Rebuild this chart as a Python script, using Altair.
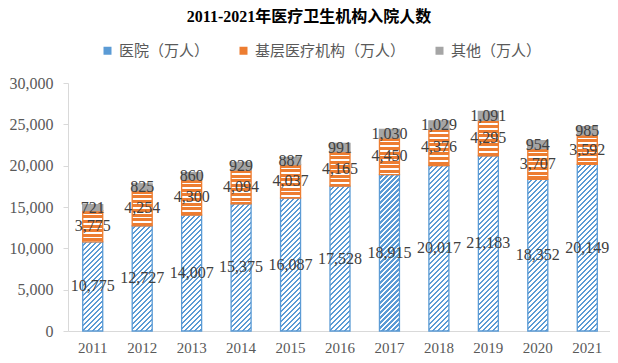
import altair as alt
import pandas as pd

years = ["2011", "2012", "2013", "2014", "2015", "2016", "2017", "2018", "2019", "2020", "2021"]
hospital = [10775, 12727, 14007, 15375, 16087, 17528, 18915, 20017, 21183, 18352, 20149]
grassroots = [3775, 4254, 4300, 4094, 4037, 4165, 4450, 4376, 4295, 3707, 3592]
other = [721, 825, 860, 929, 887, 991, 1030, 1029, 1091, 954, 985]
series_names = ["医院（万人）", "基层医疗机构（万人）", "其他（万人）"]
colors = ["#5B9BD5", "#ED7D31", "#A5A5A5"]
title_text = "2011-2021年医疗卫生机构入院人数"

Y_MAX = 30000
PLOT_W = 542
PLOT_H = 248
X_RANGE = 544
BAR_W = 20

rows = []
for i, y in enumerate(years):
    base = 0
    for s, vals in enumerate([hospital, grassroots, other]):
        v = vals[i]
        rows.append({"year": y, "s": s, "series": series_names[s], "value": v,
                     "base": base, "top": base + v, "mid": base + v / 2})
        base += v
df = pd.DataFrame(rows)


def stripe_stops(n, col_a, col_b, frac_a):
    stops = []
    i = 0
    while i < n:
        s = min(1.0, i / n)
        m = min(1.0, (i + frac_a) / n)
        e = min(1.0, (i + 1) / n)
        stops += [{"offset": round(s, 5), "color": col_a}, {"offset": round(m, 5), "color": col_a},
                  {"offset": round(m, 5), "color": col_b}, {"offset": round(e, 5), "color": col_b}]
        i += 1
    return stops


px_per_unit = PLOT_H / Y_MAX
conds = []
for i, y in enumerate(years):
    # hospital: diagonal "/" hatch
    h = hospital[i] * px_per_unit
    w = BAR_W
    k = (w + h) / (w * w + h * h)
    n = (w + h) / 5.0
    grad_h = {"gradient": "linear", "x1": 0, "y1": 0, "x2": w * k, "y2": h * k,
              "stops": stripe_stops(n, "#FFFFFF", colors[0], 0.58)}
    conds.append({"test": f"datum.year == '{y}' && datum.s == 0", "value": grad_h})
    # grassroots: horizontal stripes
    h2 = grassroots[i] * px_per_unit
    n2 = h2 / 4.6
    grad_g = {"gradient": "linear", "x1": 0, "y1": 0, "x2": 0, "y2": 1,
              "stops": stripe_stops(n2, colors[1], "#FFFFFF", 0.66)}
    conds.append({"test": f"datum.year == '{y}' && datum.s == 1", "value": grad_g})

fill_enc = {"condition": conds, "value": colors[2]}
stroke_enc = {"condition": [{"test": "datum.s == 0", "value": colors[0]},
                            {"test": "datum.s == 1", "value": colors[1]}],
              "value": colors[2]}

x_enc = alt.X("year:N", sort=years,
              scale=alt.Scale(range=[0, X_RANGE], paddingInner=0, paddingOuter=0),
              axis=alt.Axis(title=None, labelAngle=0, ticks=False, domainColor="#D9D9D9",
                            labelFont="Liberation Serif", labelFontSize=15, labelColor="#595959",
                            labelPadding=9))
y_scale = alt.Scale(domain=[0, Y_MAX], nice=False)

base = alt.Chart(df)

legend_bars = base.mark_bar(size=BAR_W).encode(
    x=x_enc,
    y=alt.Y("base:Q", scale=y_scale,
            axis=alt.Axis(title=None, values=[0, 5000, 10000, 15000, 20000, 25000, 30000],
                          format=",.0f", grid=False, domainColor="#D9D9D9", tickColor="#D9D9D9",
                          tickSize=5, labelFont="Liberation Serif", labelFontSize=16,
                          labelColor="#595959", labelPadding=10)),
    y2="top:Q",
    color=alt.Color("series:N", scale=alt.Scale(domain=series_names, range=colors),
                    legend=alt.Legend(title=None, orient="none", direction="horizontal",
                                      legendX=32, legendY=-40, symbolType="square",
                                      symbolSize=64, symbolStrokeWidth=0,
                                      labelFont="Noto Sans CJK SC", labelFontSize=15,
                                      labelColor="#595959", labelOffset=4,
                                      columnPadding=26, padding=0)),
)

pattern_bars = base.mark_bar(size=BAR_W, strokeWidth=1.3).encode(
    x=alt.X("year:N", sort=years),
    y=alt.Y("base:Q"),
    y2="top:Q",
    fill=fill_enc,
    stroke=stroke_enc,
)

labels = base.mark_text(font="Liberation Serif", fontSize=16, color="#404040").encode(
    x=alt.X("year:N", sort=years),
    y=alt.Y("mid:Q"),
    text=alt.Text("value:Q", format=",.0f"),
)

chart = alt.layer(legend_bars, pattern_bars, labels).properties(
    width=PLOT_W,
    height=PLOT_H,
    autosize=alt.AutoSizeParams(type="none"),
    padding={"left": 60, "top": 75, "right": 0, "bottom": 30},
    title=alt.Title(title_text, font="Liberation Serif, Noto Sans CJK SC", fontSize=16,
                    fontWeight="bold", color="#000000", anchor="middle", dx=-30, offset=18),
).configure_view(stroke=None)

chart.save("out.html", embed_options={"renderer": "svg", "actions": False})
